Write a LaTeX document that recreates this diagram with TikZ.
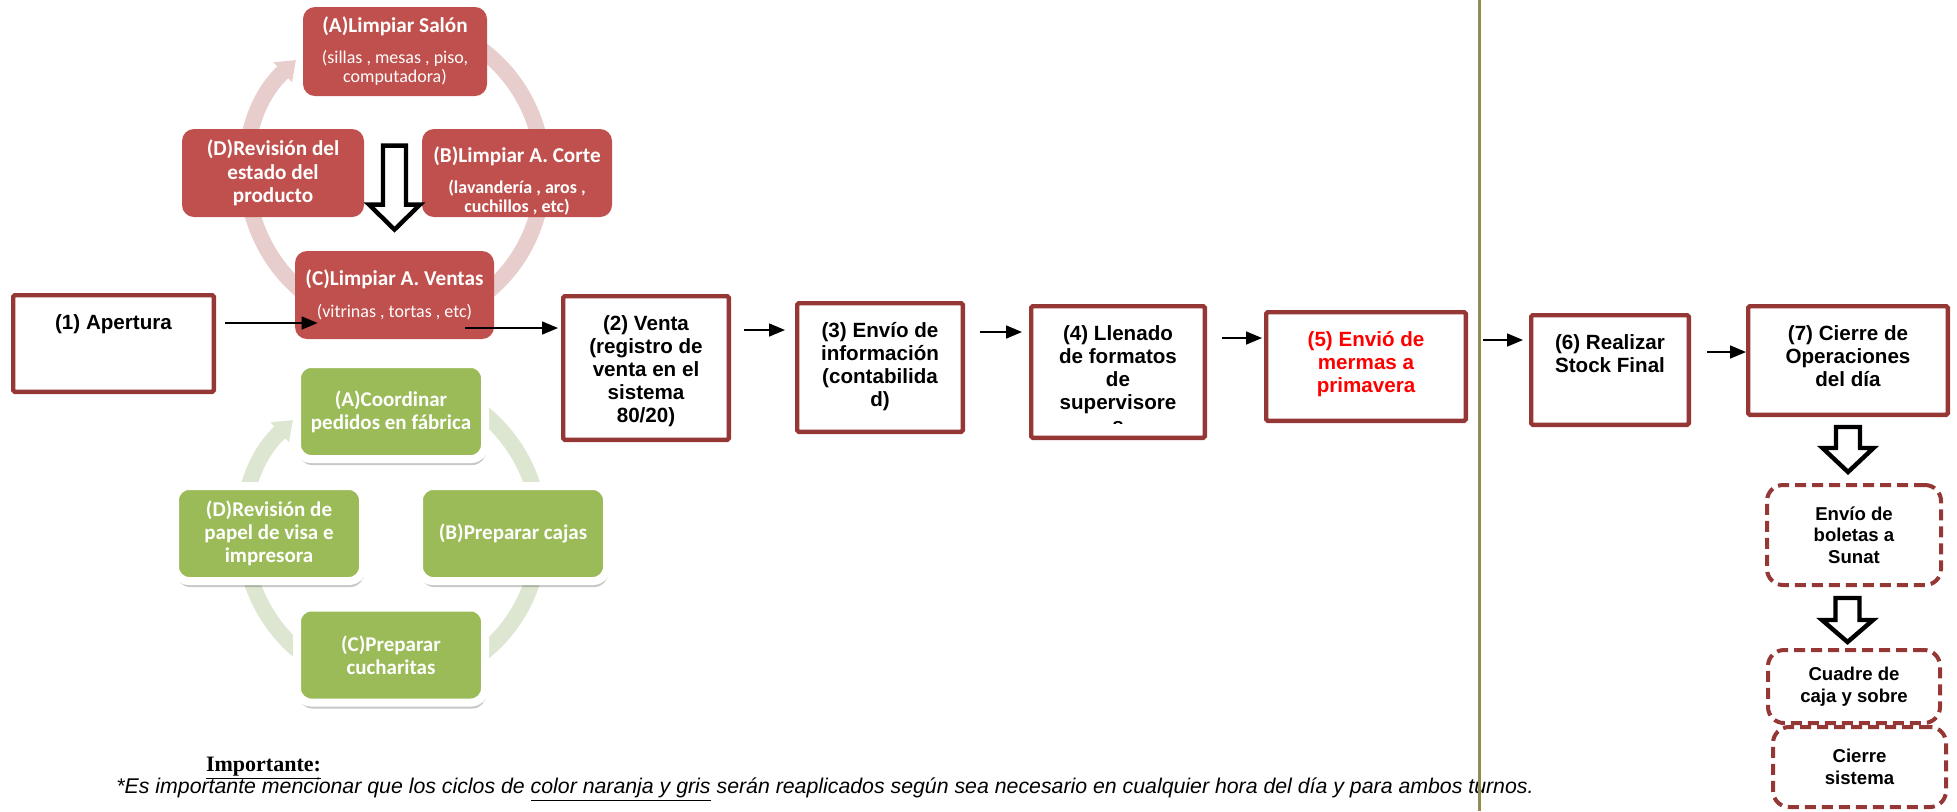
\documentclass[tikz,border=0pt]{standalone}
\usepackage{fontspec}
\setmainfont{Liberation Sans}
\newfontfamily\calibri{Carlito}
\newfontfamily\timesfont{Liberation Serif}
\usetikzlibrary{arrows.meta,shadows}

\definecolor{boxred}{HTML}{953735}
\definecolor{cyclered}{HTML}{C0504D}
\definecolor{ringred}{HTML}{E7CDCC}
\definecolor{cyclegreen}{HTML}{9BBB59}
\definecolor{ringgreen}{HTML}{DCE6D0}
\definecolor{olive}{HTML}{948A54}

\newcommand\rtitle{\calibri\bfseries\fontsize{10.6}{11.7}\selectfont}

\begin{document}
\begin{tikzpicture}[x=0.5pt,y=-0.5pt,
  flowbox/.style={draw=boxred,line width=2.2pt,rounded corners=0.8pt,fill=white,inner sep=0pt},
  flowtext/.style={anchor=north,inner sep=0pt,align=center,font=\fontsize{10.3}{11.5}\selectfont\bfseries},
  flow/.style={-{Triangle[length=8pt,width=6.5pt]},line width=0.8pt},
  redbox/.style={fill=cyclered,rounded corners=6pt,inner sep=0pt,text=white,align=center,font=\calibri\fontsize{9}{9.5}\selectfont},
  greenbox/.style={fill=cyclegreen,draw=white,line width=4pt,rounded corners=7pt,minimum width=94pt,minimum height=47.5pt,inner sep=0pt,text=white,align=center,font=\calibri\bfseries\fontsize{10.5}{11.6}\selectfont,drop shadow={shadow xshift=0.6pt,shadow yshift=-3pt,fill=black,opacity=0.22}},
  ring/.style={line width=8pt,-{Triangle[length=9pt,width=13pt]}},
  hollow/.style={draw=black,line width=2.2pt,fill=white},
  dashbox/.style={draw=boxred,line width=2pt,dash pattern=on 5.5pt off 3pt,rounded corners=8pt,fill=white,inner sep=0pt,align=center,font=\fontsize{9.3}{10.75}\selectfont\bfseries}]
\useasboundingbox (0,0) rectangle (1957,811);

% ciclo de limpieza (rojo)
\coordinate (rcen) at (395,173);
\draw[ring,ringred] ([shift={(125:74pt and 76pt)}]rcen) arc[start angle=125,end angle=-228,x radius=74pt,y radius=76pt];
\node[redbox,minimum width=92pt,minimum height=44.5pt] (ra) at (395,51.5) {{\rtitle (A)Limpiar Salón}\\[6pt](sillas , mesas , piso,\\computadora)};
\node[redbox,minimum width=95pt,minimum height=44pt] (rb) at (517,173) {{\rtitle\rule{0pt}{16pt}(B)Limpiar A. Corte}\\[6pt]{\bfseries (lavandería , aros ,}\\{\bfseries cuchillos , etc)}};
\node[redbox,minimum width=99.5pt,minimum height=44pt] (rc) at (394.5,295) {{\rtitle (C)Limpiar A. Ventas}\\[6.5pt](vitrinas , tortas , etc)};
\node[redbox,font=\rtitle,minimum width=91pt,minimum height=44pt] (rd) at (273,173) {(D)Revisión del\\estado del\\producto};
\draw[hollow] ([yshift=10.5pt]rc.north) +(0,0) -- +(25.5,-25) -- +(11.5,-25) -- +(11.5,-84) -- +(-11.5,-84) -- +(-11.5,-25) -- +(-25.5,-25) -- cycle;

% ciclo de pedidos (verde)
\coordinate (gcen) at (392,533);
\draw[ring,ringgreen] ([shift={(125:74pt and 76pt)}]gcen) arc[start angle=125,end angle=-228,x radius=74pt,y radius=76pt];
\node[greenbox] (ga) at (391,411.5) {(A)Coordinar\\pedidos en fábrica};
\node[greenbox] (gb) at (513,533.5) {(B)Preparar cajas};
\node[greenbox] (gc) at (391,655) {(C)Preparar\\cucharitas};
\node[greenbox] (gd) at (269,533.5) {(D)Revisión de\\papel de visa e\\impresora};

% pasos del dia
\node[flowbox,minimum width=100.3pt,minimum height=48.3pt] (ap) at (113.5,343.5) {};
\node[flowbox,minimum width=82.8pt,minimum height=71.8pt] (v2) at (646,368) {};
\node[flowbox,minimum width=82.8pt,minimum height=64.3pt] (v3) at (880,367.5) {};
\node[flowbox,minimum width=86.8pt,minimum height=65.8pt] (v4) at (1118,372) {};
\node[flowbox,minimum width=99.8pt,minimum height=54.3pt] (v5) at (1366,366.5) {};
\node[flowbox,minimum width=78.8pt,minimum height=54.8pt] (v6) at (1610,370) {};
\node[flowbox,minimum width=99.8pt,minimum height=54.3pt] (v7) at (1848,360.5) {};

\node[flowtext] at ([yshift=-10.5pt]ap.north) {(1) Apertura};
\node[flowtext] at ([yshift=-10.5pt]v2.north) {(2) Venta\\(registro de\\venta en el\\sistema\\80/20)};
\node[flowtext] at ([yshift=-10.5pt]v3.north) {(3) Envío de\\información\\(contabilida\\d)};
\begin{scope}
  \clip (1030,300) rectangle (1206,423);
  \node[flowtext] at ([yshift=-10.5pt]v4.north) {(4) Llenado\\de formatos\\de\\supervisore\\s};
\end{scope}
\node[flowtext,text=red] at ([yshift=-10.5pt]v5.north) {(5) Envió de\\mermas a\\primavera};
\node[flowtext] at ([yshift=-10.5pt]v6.north) {(6) Realizar\\Stock Final};
\node[flowtext] at ([yshift=-10.5pt]v7.north) {(7) Cierre de\\Operaciones\\del día};

\draw[flow] ([xshift=4.5pt,yshift=10.25pt]ap.east) -- ([xshift=11.5pt,yshift=-14pt]rc.west);
\draw[flow] ([xshift=-14.5pt,yshift=-16.5pt]rc.east) -- ([xshift=-1.5pt,yshift=20pt]v2.west);
\draw[flow] ([xshift=6.5pt,yshift=19pt]v2.east) -- ([xshift=-5pt,yshift=18.75pt]v3.west);
\draw[flow] ([xshift=7.5pt,yshift=17.75pt]v3.east) -- ([xshift=-3.5pt,yshift=20pt]v4.west);
\draw[flow] ([xshift=7.5pt,yshift=17pt]v4.east) -- ([xshift=-1pt,yshift=14.25pt]v5.west);
\draw[flow] ([xshift=7.5pt,yshift=13.25pt]v5.east) -- ([xshift=-3pt,yshift=15pt]v6.west);
\draw[flow] ([xshift=8pt,yshift=9pt]v6.east) -- ([yshift=4.25pt]v7.west);

% cierre
\node[dashbox,minimum width=87pt,minimum height=50pt] (db1) at (1854,535) {Envío de\\boletas a\\Sunat};
\node[dashbox,minimum width=86pt,minimum height=36.5pt] (db2) at (1854,686.5) {Cuadre de\\caja y sobre};
\node[dashbox,minimum width=86.5pt,minimum height=40pt] (db3) at (1859.5,767) {Cierre\\sistema};
\draw[hollow] ([xshift=-3pt,yshift=5.5pt]db1.north) +(0,0) -- +(25.5,-24) -- +(12,-24) -- +(12,-45) -- +(-12,-45) -- +(-12,-24) -- +(-25.5,-24) -- cycle;
\draw[hollow] ([xshift=-3.25pt,yshift=3pt]db2.north) +(0,0) -- +(25.5,-22) -- +(12,-22) -- +(12,-44) -- +(-12,-44) -- +(-12,-22) -- +(-25.5,-22) -- cycle;

% nota
\node[anchor=base,inner sep=0pt,font=\timesfont\bfseries\fontsize{11}{12}\selectfont] (imp) at (263.5,771) {\underline{Importante:}};
\node[anchor=base west,inner sep=0pt,font=\itshape\fontsize{10.65}{12}\selectfont] (nota) at (116,793) {*Es importante mencionar que los ciclos de \underline{color naranja y gris} serán reaplicados según sea necesario en cualquier hora del día y para ambos turnos.};

\draw[olive,line width=1.5pt] (1479,0) -- (1479,811);
\end{tikzpicture}
\end{document}
